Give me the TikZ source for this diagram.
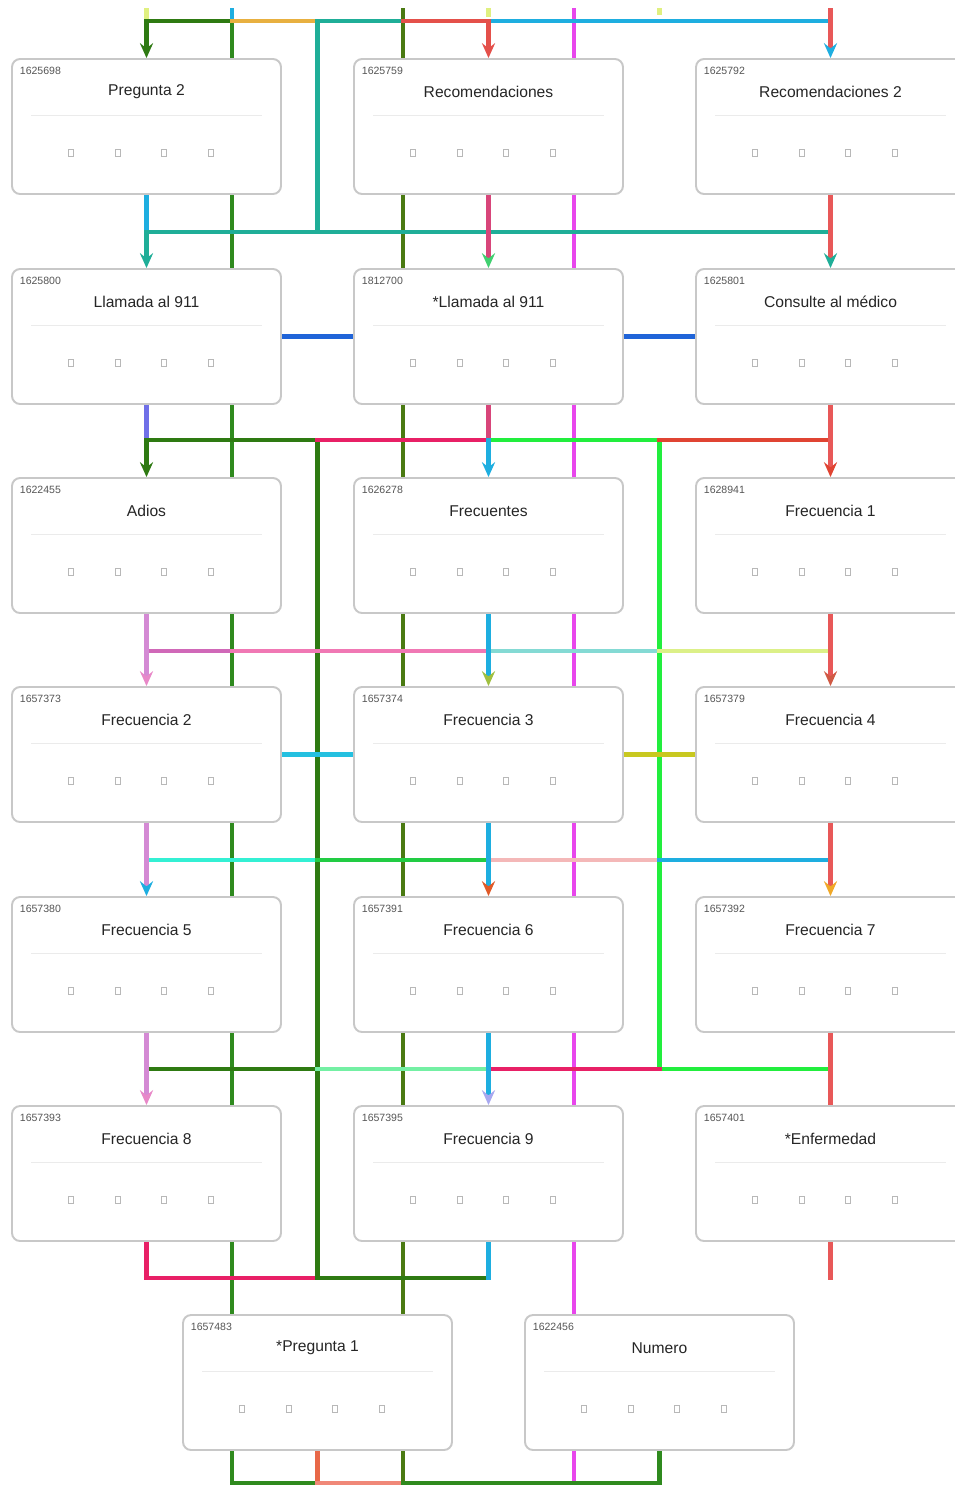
\documentclass[tikz,border=0pt]{standalone}
\usepackage{fontspec}
\setmainfont{Liberation Sans}
\usetikzlibrary{arrows.meta,backgrounds}

\definecolor{dkgrn}{HTML}{2E7A12}
\definecolor{grn}{HTML}{2F8A1E}
\definecolor{olive}{HTML}{4A7A12}
\definecolor{ltyel}{HTML}{E0F080}
\definecolor{skyb}{HTML}{1EAEE0}
\definecolor{orng}{HTML}{E8B040}
\definecolor{tealc}{HTML}{1FAE98}
\definecolor{redc}{HTML}{E4504A}
\definecolor{coral}{HTML}{E85858}
\definecolor{magc}{HTML}{E846EC}
\definecolor{rose}{HTML}{D8457A}
\definecolor{mint}{HTML}{40D070}
\definecolor{royal}{HTML}{2064D8}
\definecolor{lilac}{HTML}{7070E8}
\definecolor{crim}{HTML}{E82066}
\definecolor{lime}{HTML}{22EE3E}
\definecolor{tomato}{HTML}{E04432}
\definecolor{orchid}{HTML}{D48AD4}
\definecolor{pinkish}{HTML}{E888C8}
\definecolor{mauve}{HTML}{D068B8}
\definecolor{hotpink}{HTML}{F078B4}
\definecolor{paleteal}{HTML}{84DAD4}
\definecolor{paleyel}{HTML}{DCF088}
\definecolor{olivey}{HTML}{A0C040}
\definecolor{brick}{HTML}{D05A44}
\definecolor{cyanc}{HTML}{24C0E0}
\definecolor{mustard}{HTML}{C8C820}
\definecolor{aqua}{HTML}{34F0D4}
\definecolor{green3}{HTML}{22CC44}
\definecolor{blush}{HTML}{F4B8B8}
\definecolor{rust}{HTML}{E05A28}
\definecolor{amber}{HTML}{F0A828}
\definecolor{mintl}{HTML}{74F0A4}
\definecolor{lav}{HTML}{A8A8F0}
\definecolor{orngred}{HTML}{E86848}
\definecolor{salmon}{HTML}{F08878}
\definecolor{cardline}{HTML}{C8C8C8}
\definecolor{divgray}{HTML}{EBEBEB}
\definecolor{idgray}{HTML}{555555}
\definecolor{tofugray}{HTML}{B8B8B8}

\begin{document}
\begin{tikzpicture}[
  x=0.02cm, y=-0.02cm,
  card/.style={draw=cardline, line width=1.1pt, fill=white, rounded corners=0.16cm,
    minimum width=5.38cm, minimum height=2.7cm, inner sep=0pt},
  cid/.style={anchor=west, inner sep=0pt, text=idgray, font=\fontsize{6}{7}\selectfont},
  ctitle/.style={inner sep=0pt, text=black!85, font=\fontsize{8.9}{10}\selectfont},
  divider/.style={draw=divgray, line width=0.6pt},
  tofu/.style={draw=tofugray, line width=0.4pt, minimum width=0.1cm, minimum height=0.15cm, inner sep=0pt},
  ln/.style={draw=#1, line width=2.6pt, line cap=rect},
  arr/.style={-{Stealth[length=8.5pt, width=7.5pt, inset=3pt, color=#1]}}
]
\useasboundingbox (0,0) rectangle (954,1485);

% cards
\foreach \nm/\x/\y/\id/\ttl in {
  preg2/146.5/126.5/1625698/Pregunta 2,
  recom/488.5/126.5/1625759/Recomendaciones,
  recom2/830.5/126.5/1625792/Recomendaciones 2,
  llam/146.5/336.5/1625800/Llamada al 911,
  llam2/488.5/336.5/1812700/*Llamada al 911,
  consul/830.5/336.5/1625801/Consulte al médico,
  adios/146.5/545.5/1622455/Adios,
  frecs/488.5/545.5/1626278/Frecuentes,
  frec1/830.5/545.5/1628941/Frecuencia 1,
  frec2/146.5/754.5/1657373/Frecuencia 2,
  frec3/488.5/754.5/1657374/Frecuencia 3,
  frec4/830.5/754.5/1657379/Frecuencia 4,
  frec5/146.5/964.5/1657380/Frecuencia 5,
  frec6/488.5/964.5/1657391/Frecuencia 6,
  frec7/830.5/964.5/1657392/Frecuencia 7,
  frec8/146.5/1173.5/1657393/Frecuencia 8,
  frec9/488.5/1173.5/1657395/Frecuencia 9,
  enferm/830.5/1173.5/1657401/*Enfermedad,
  preg1/317.5/1382.5/1657483/*Pregunta 1,
  numero/659.5/1382.5/1622456/Numero} {
  \node[card] (\nm) at (\x,\y) {};
  \node[cid] at ([xshift=0.17cm,yshift=-0.25cm]\nm.north west) {\id};
  \node[ctitle] at ([yshift=-0.68cm]\nm.north) {\ttl};
  \draw[divider] ([xshift=0.4cm,yshift=-1.15cm]\nm.north west) -- ([xshift=-0.4cm,yshift=-1.15cm]\nm.north east);
  \foreach \dx in {1.2,2.14,3.06,4.0}
    \node[tofu] at ([xshift=\dx cm,yshift=-1.9cm]\nm.north west) {};
}

% lanes and bus levels
\foreach \k in {1,...,9}
  \coordinate (L\k) at ({146.5+85.5*(\k-1)},0);
\foreach \b/\y in {T/10,B0/21,B1/232,B2/440,B3/651,B4/860,B5/1069,B6/1278,B7/1483}
  \coordinate (\b) at (0,\y);

\begin{scope}[on background layer]
\fill[white] (0,0) rectangle (954,1485);

% long lanes under the cards
\draw[ln=grn] (L2 |- B0) -- (L2 |- preg1.north);
\draw[ln=olive] (L4 |- T) -- (L4 |- preg1.north);
\draw[ln=magc] (L6 |- T) -- (L6 |- numero.north);
\draw[ln=dkgrn] (L3 |- B2) -- (L3 |- B6);
\draw[ln=lime] (L7 |- B2) |- (L9 |- B5);

% top
\draw[ln=ltyel] (L1 |- T) -- (L1 |- B0);
\draw[ln=skyb] (L2 |- T) -- (L2 |- B0);
\draw[ln=ltyel] (L5 |- T) -- ++(0,5);
\draw[ln=ltyel] (L7 |- T) -- ++(0,3);
\draw[ln=dkgrn] (L1 |- B0) -- (L2 |- B0);
\draw[ln=orng] (L2 |- B0) -- (L3 |- B0);
\draw[ln=tealc] (L3 |- B0) -- (L4 |- B0);
\draw[ln=redc] (L4 |- B0) -- (L5 |- B0);
\draw[ln=skyb] (L5 |- B0) -- (L9 |- B0);
\draw[ln=tealc] (L3 |- B0) -- (L3 |- B1);
\draw[ln=dkgrn, arr=dkgrn] (L1 |- B0) -- (preg2.north);
\draw[ln=redc, arr=redc] (L5 |- B0) -- (recom.north);
\draw[ln=coral, arr=skyb] (L9 |- T) -- (recom2.north);

% row 1 to row 2
\draw[ln=tealc] (L1 |- B1) -- (L9 |- B1);
\draw[ln=skyb] (preg2.south) -- (L1 |- B1);
\draw[ln=tealc, arr=tealc] (L1 |- B1) -- (llam.north);
\draw[ln=rose, arr=mint] (recom.south) -- (llam2.north);
\draw[ln=coral, arr=tealc] (recom2.south) -- (consul.north);
\draw[ln=royal] (llam.east) -- (llam2.west);
\draw[ln=royal] (llam2.east) -- (consul.west);

% row 2 to row 3
\draw[ln=dkgrn] (L1 |- B2) -- (L3 |- B2);
\draw[ln=crim] (L3 |- B2) -- (L5 |- B2);
\draw[ln=lime] (L5 |- B2) -- (L7 |- B2);
\draw[ln=tomato] (L7 |- B2) -- (L9 |- B2);
\draw[ln=lilac] (llam.south) -- (L1 |- B2);
\draw[ln=dkgrn, arr=dkgrn] (L1 |- B2) -- (adios.north);
\draw[ln=rose] (llam2.south) -- (L5 |- B2);
\draw[ln=skyb, arr=skyb] (L5 |- B2) -- (frecs.north);
\draw[ln=coral, arr=tomato] (consul.south) -- (frec1.north);

% row 3 to row 4
\draw[ln=mauve] (L1 |- B3) -- (L2 |- B3);
\draw[ln=hotpink] (L2 |- B3) -- (L5 |- B3);
\draw[ln=paleteal] (L5 |- B3) -- (L7 |- B3);
\draw[ln=paleyel] (L7 |- B3) -- (L9 |- B3);
\draw[ln=orchid, arr=pinkish] (adios.south) -- (frec2.north);
\draw[ln=skyb, arr=olivey] (frecs.south) -- (frec3.north);
\draw[ln=coral, arr=brick] (frec1.south) -- (frec4.north);
\draw[ln=cyanc] (frec2.east) -- (frec3.west);
\draw[ln=mustard] (frec3.east) -- (frec4.west);

% row 4 to row 5
\draw[ln=aqua] (L1 |- B4) -- (L3 |- B4);
\draw[ln=green3] (L3 |- B4) -- (L5 |- B4);
\draw[ln=blush] (L5 |- B4) -- (L7 |- B4);
\draw[ln=skyb] (L7 |- B4) -- (L9 |- B4);
\draw[ln=orchid, arr=skyb] (frec2.south) -- (frec5.north);
\draw[ln=skyb, arr=rust] (frec3.south) -- (frec6.north);
\draw[ln=coral, arr=amber] (frec4.south) -- (frec7.north);

% row 5 to row 6
\draw[ln=dkgrn] (L1 |- B5) -- (L3 |- B5);
\draw[ln=mintl] (L3 |- B5) -- (L5 |- B5);
\draw[ln=crim] (L5 |- B5) -- (L7 |- B5);
\draw[ln=orchid, arr=pinkish] (frec5.south) -- (frec8.north);
\draw[ln=skyb, arr=lav] (frec6.south) -- (frec9.north);
\draw[ln=coral] (frec7.south) -- (enferm.north);

% row 6 to the last row
\draw[ln=crim] (frec8.south) |- (L3 |- B6);
\draw[ln=dkgrn] (L3 |- B6) -- (L5 |- B6);
\draw[ln=skyb] (frec9.south) -- (L5 |- B6);
\draw[ln=coral] (enferm.south) -- (L9 |- B6);

% bottom
\draw[ln=grn] (L2 |- preg1.south) -- (L2 |- B7);
\draw[ln=orngred] (preg1.south) -- (L3 |- B7);
\draw[ln=olive] (L4 |- preg1.south) -- (L4 |- B7);
\draw[ln=magc] (L6 |- numero.south) -- (L6 |- B7);
\draw[ln=grn] (numero.south) -- (L7 |- B7);
\draw[ln=grn] (L2 |- B7) -- (L3 |- B7);
\draw[ln=salmon] (L3 |- B7) -- (L4 |- B7);
\draw[ln=grn] (L4 |- B7) -- (L7 |- B7);
\end{scope}
\end{tikzpicture}
\end{document}
